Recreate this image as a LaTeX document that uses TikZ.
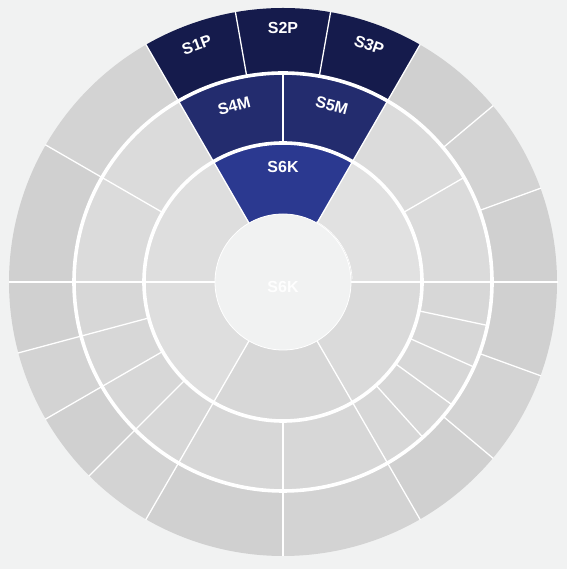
\documentclass[tikz,border=0pt]{standalone}
\usepackage{fontspec}
\setmainfont{Liberation Sans}
\definecolor{bgc}{HTML}{F1F2F2}
\definecolor{navyA}{HTML}{151B4C}
\definecolor{navyB}{HTML}{232C6E}
\definecolor{navyC}{HTML}{2B3990}
\definecolor{gA}{HTML}{DEDEDE}
\definecolor{gA2}{HTML}{E1E1E1}
\definecolor{gA3}{HTML}{DADADA}
\definecolor{gA4}{HTML}{D7D7D7}
\definecolor{gB}{HTML}{D7D7D7}
\definecolor{gB2}{HTML}{DBDBDB}
\definecolor{gC}{HTML}{D0D0D0}
\definecolor{gC2}{HTML}{D3D3D3}
\newcommand\mysect[5]{\fill[#5] (#1:#3) -- (#1:#4) arc[start angle=#1,end angle=#2,radius=#4] -- (#2:#3) arc[start angle=#2,end angle=#1,radius=#3] -- cycle;}
\tikzset{
  seplin/.style={white,line width=1.3pt},
  ringgap/.style={white,line width=3.6pt},
  lbl/.style={text=white,font=\bfseries\fontsize{16}{17}\selectfont,inner sep=0pt},
}
\begin{document}
\begin{tikzpicture}[x=1pt,y=1pt]
\fill[bgc] (0,0) rectangle (567,569);
\useasboundingbox (0,0) rectangle (567,569);
\begin{scope}[shift={(283,287)}]
% ring 3 (outer)
\foreach \a/\b/\c in {0/20/gC,20/40/gC2,40/60/gC,120/150/gC2,150/180/gC,180/195/gC,195/210/gC2,210/225/gC,225/240/gC2,240/270/gC,270/300/gC2,300/320/gC,320/340/gC2,340/360/gC}
  {\mysect{\a}{\b}{209}{274}{\c}}
\mysect{60}{80}{209}{274}{navyA}
\mysect{80}{100}{209}{274}{navyA}
\mysect{100}{120}{209}{274}{navyA}
% ring 2
\foreach \a/\b/\c in {0/30/gB2,30/60/gB2,120/150/gB2,150/180/gB2,180/195/gB,195/210/gB,210/225/gB,225/240/gB,240/270/gB,270/300/gB,300/312/gB,312/324/gB,324/336/gB,336/348/gB,348/360/gB}
  {\mysect{\a}{\b}{139}{209}{\c}}
\mysect{60}{90}{139}{209}{navyB}
\mysect{90}{120}{139}{209}{navyB}
% ring 1
\mysect{0}{60}{68}{139}{gA2}
\mysect{60}{120}{68}{139}{navyC}
\mysect{120}{180}{68}{139}{gA}
\mysect{180}{240}{68}{139}{gA}
\mysect{240}{300}{68}{139}{gA4}
\mysect{300}{360}{68}{139}{gA3}
% separators
\foreach \a in {0,20,40,60,80,100,120,150,180,195,210,225,240,270,300,320,340}
  {\draw[seplin] (\a:209) -- (\a:274.5);}
\foreach \a in {0,30,60,90,120,150,180,195,210,225,240,270,300,312,324,336,348}
  {\draw[seplin] (\a:139) -- (\a:209);}
\foreach \a in {0,60,120,180,240,300}
  {\draw[seplin] (\a:68) -- (\a:139);}
\draw[ringgap] (0,0) circle[radius=139];
\draw[ringgap] (0,0) circle[radius=209];
% hole
\fill[bgc] (0,0) circle[radius=68];
\draw[white,line width=0.8pt] (0,0) circle[radius=68];
\draw[white,line width=0.6pt] (61:69) arc[start angle=61,end angle=3,radius=69.5];
% labels
\node[lbl,rotate=20] (s1p) at (110:252) {S1P};
\node[lbl] (s2p) at (90:254) {S2P};
\node[lbl,rotate=-20] (s3p) at (70:252) {S3P};
\node[lbl,rotate=15] (s4m) at (105.5:183) {S4M};
\node[lbl,rotate=-15] (s5m) at (74.5:183) {S5M};
\node[lbl] (s6k) at (90:115) {S6K};
\node[lbl,text=white!92!bgc] (ctr) at (0,-5) {S6K};
\end{scope}
\end{tikzpicture}
\end{document}
